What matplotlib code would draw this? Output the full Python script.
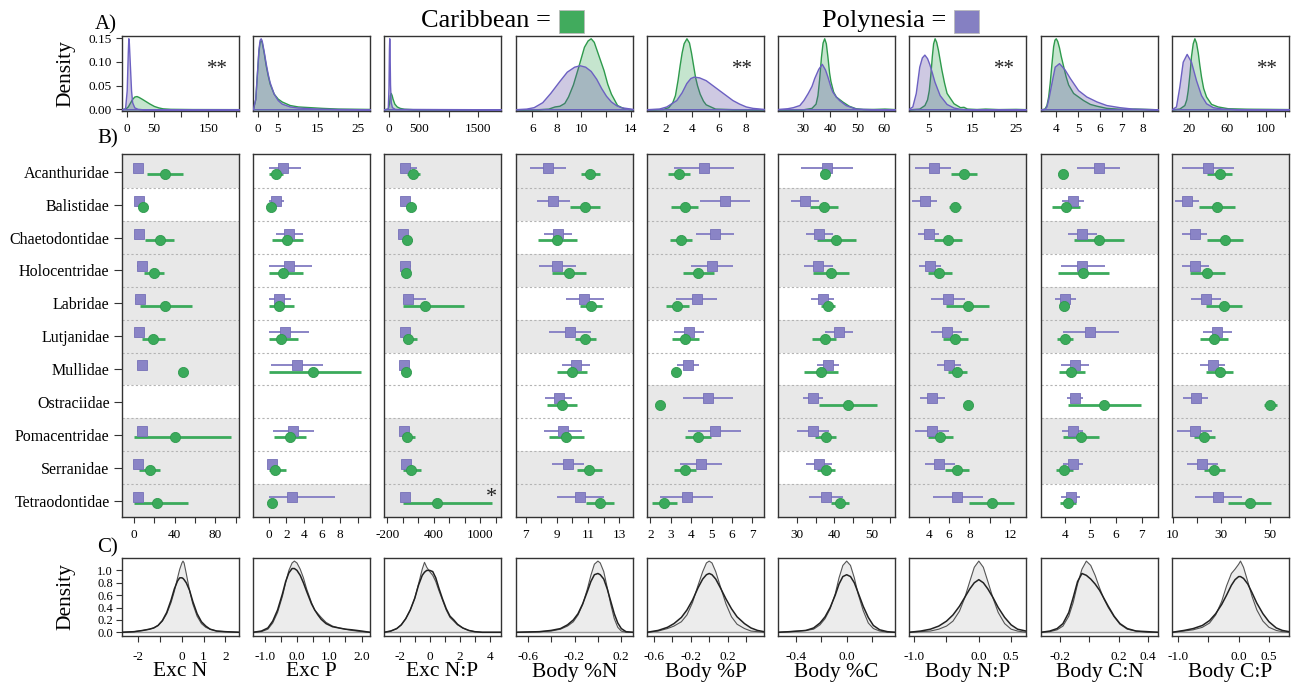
import numpy as np
import matplotlib
matplotlib.use('Agg')
import matplotlib.pyplot as plt
from matplotlib.colors import to_rgba
from matplotlib.patches import Rectangle

plt.rcParams['font.family'] = ['Liberation Serif', 'DejaVu Serif']

nan = float('nan')

# ---------------------------------------------------------------- labels
families = ['Acanthuridae', 'Balistidae', 'Chaetodontidae', 'Holocentridae',
            'Labridae', 'Lutjanidae', 'Mullidae', 'Ostraciidae',
            'Pomacentridae', 'Serranidae', 'Tetraodontidae']
variables = ['Exc N', 'Exc P', 'Exc N:P', 'Body %N', 'Body %P', 'Body %C',
             'Body N:P', 'Body C:N', 'Body C:P']
signif_top = ['**', '', '', '', '**', '', '**', '', '**']

# ---------------------------------------------------------------- A) densities
# panel 1 in density units, others peak-normalised (no y axis shown)
excN_car_x = [-8.6, -2, 2, 6, 10, 14, 18, 22, 28, 35, 42, 50, 58, 66, 80, 120, 206]
excN_car_d = [0.0005, 0.002, 0.006, 0.014, 0.022, 0.027, 0.028, 0.026, 0.022, 0.017,
              0.012, 0.007, 0.004, 0.002, 0.001, 0.0005, 0.0003]
excN_pol_x = [-8.6, -3, 0, 2, 3, 4, 6, 8, 10, 14, 20, 30, 206]
excN_pol_d = [0, 0.002, 0.04, 0.12, 0.15, 0.14, 0.09, 0.04, 0.015, 0.004, 0.001, 0, 0]

excP_car_x = [-1.16, -0.6, -0.2, 0.2, 0.5, 0.75, 1.0, 1.5, 2, 2.5, 3, 4, 5, 6, 8, 10, 13, 16, 20, 28]
excP_car_d = [0.01, 0.14, 0.48, 0.82, 0.95, 0.97, 0.95, 0.8, 0.62, 0.48, 0.36, 0.22, 0.15,
              0.11, 0.06, 0.04, 0.03, 0.02, 0.01, 0.005]
excP_pol_x = [-1.16, -0.6, -0.2, 0.2, 0.5, 0.75, 1.0, 1.5, 2, 2.5, 3, 4, 5, 6, 8, 10, 13, 16, 20, 28]
excP_pol_d = [0.01, 0.15, 0.5, 0.85, 0.98, 1.0, 0.97, 0.82, 0.65, 0.5, 0.38, 0.22, 0.13,
              0.08, 0.04, 0.025, 0.015, 0.008, 0.004, 0.0]

excNP_car_x = [-83, -20, 0, 15, 30, 45, 60, 90, 130, 180, 250, 400, 1877]
excNP_car_d = [0, 0.01, 0.08, 0.2, 0.23, 0.2, 0.15, 0.08, 0.04, 0.02, 0.008, 0.002, 0]
excNP_pol_x = [-83, -20, -8, 0, 5, 10, 18, 30, 50, 100, 1877]
excNP_pol_d = [0, 0.01, 0.3, 0.85, 1.0, 0.85, 0.35, 0.1, 0.03, 0.005, 0]

bN_car_x = [4.66, 6.5, 7.3, 7.8, 8.2, 8.6, 8.9, 9.3, 9.7, 10.0, 10.2, 10.5, 10.75, 11.0,
            11.3, 11.8, 12.1, 12.4, 12.9, 13.5, 14.2]
bN_car_d = [0, 0.002, 0.01, 0.04, 0.05, 0.09, 0.18, 0.35, 0.58, 0.76, 0.88, 0.97, 1.0, 0.95,
            0.8, 0.55, 0.36, 0.22, 0.06, 0.01, 0]
bN_pol_x = [4.66, 5.5, 6.1, 6.8, 7.45, 8.2, 8.8, 9.4, 9.85, 10.3, 10.75, 11.2, 11.6, 12.0,
            12.4, 12.8, 13.2, 14.2]
bN_pol_d = [0.002, 0.01, 0.03, 0.1, 0.23, 0.4, 0.53, 0.6, 0.62, 0.6, 0.54, 0.43, 0.3, 0.19,
            0.11, 0.06, 0.03, 0.005]

bP_car_x = [0.61, 1.8, 2.2, 2.5, 2.7, 2.9, 3.05, 3.2, 3.35, 3.56, 3.75, 3.9, 4.05, 4.2, 4.35,
            4.55, 4.8, 5.0, 5.7, 7, 9.36]
bP_car_d = [0, 0.005, 0.03, 0.1, 0.2, 0.42, 0.62, 0.8, 0.93, 1.0, 0.94, 0.8, 0.63, 0.46, 0.34,
            0.22, 0.12, 0.07, 0.01, 0.002, 0]
bP_pol_x = [0.61, 1.5, 2.05, 2.8, 3.2, 3.55, 3.85, 4.1, 4.5, 5.0, 5.5, 6.0, 6.5, 7.0, 7.5,
            8.0, 8.5, 9.36]
bP_pol_d = [0.002, 0.01, 0.04, 0.13, 0.24, 0.37, 0.44, 0.46, 0.45, 0.41, 0.34, 0.27, 0.2,
            0.13, 0.08, 0.04, 0.02, 0.005]

bC_car_x = [20.6, 30, 33, 34.5, 35.2, 35.8, 36.5, 37.1, 37.7, 38.3, 38.9, 39.5, 40, 41, 42,
            44.4, 46.8, 49.3, 52, 56, 60, 63.9]
bC_car_d = [0, 0.001, 0.02, 0.08, 0.2, 0.42, 0.74, 0.94, 1.0, 0.93, 0.74, 0.52, 0.4, 0.25,
            0.18, 0.11, 0.05, 0.015, 0.005, 0.005, 0.01, 0.003]
bC_pol_x = [20.6, 24, 26.1, 28.5, 30, 31.6, 33, 34, 35.5, 36.8, 38, 38.9, 40, 40.7, 42,
            43.2, 45.6, 49.3, 55, 63.9]
bC_pol_d = [0.005, 0.015, 0.03, 0.06, 0.13, 0.23, 0.33, 0.44, 0.57, 0.64, 0.56, 0.46, 0.32,
            0.25, 0.18, 0.13, 0.06, 0.01, 0.002, 0]

bNP_car_x = [0.44, 2.8, 4.0, 4.6, 5.0, 5.4, 5.7, 6.0, 6.34, 6.7, 7.1, 7.5, 7.9, 8.5, 9.1,
             10.7, 12.2, 13.0, 13.8, 16, 18, 21, 25, 27.4]
bNP_car_d = [0, 0.01, 0.06, 0.14, 0.27, 0.52, 0.75, 0.93, 1.0, 0.95, 0.84, 0.7, 0.56, 0.38,
             0.23, 0.085, 0.03, 0.035, 0.01, 0.004, 0.01, 0.003, 0.006, 0.002]
bNP_pol_x = [0.44, 1.2, 2.0, 2.8, 3.4, 3.98, 4.6, 5.16, 5.7, 6.3, 7.5, 9.1, 10.7, 12.2, 15, 27.4]
bNP_pol_d = [0.01, 0.04, 0.23, 0.6, 0.73, 0.77, 0.72, 0.63, 0.52, 0.39, 0.2, 0.075, 0.025,
             0.006, 0.001, 0]

bCN_car_x = [3.29, 3.45, 3.54, 3.62, 3.69, 3.77, 3.85, 3.91, 3.97, 4.04, 4.12, 4.2, 4.31,
             4.42, 4.54, 4.77, 5.0, 5.23, 5.54, 5.85, 6.3, 6.9, 7.6, 8.68]
bCN_car_d = [0, 0.01, 0.06, 0.18, 0.37, 0.64, 0.89, 0.98, 1.0, 0.96, 0.87, 0.75, 0.61,
             0.47, 0.35, 0.23, 0.18, 0.13, 0.076, 0.05, 0.02, 0.008, 0.01, 0]
bCN_pol_x = [3.29, 3.45, 3.54, 3.65, 3.77, 3.92, 4.12, 4.38, 4.62, 5.0, 5.38, 5.85, 6.3, 6.9,
             7.5, 8.68]
bCN_pol_d = [0, 0.005, 0.04, 0.18, 0.37, 0.6, 0.65, 0.56, 0.44, 0.27, 0.18, 0.11, 0.06, 0.03,
             0.01, 0.0]

bCP_car_x = [2.7, 10.3, 15.5, 17.5, 19, 20.8, 22.4, 24.2, 25.9, 27.6, 29.4, 31, 32.8, 35,
             38, 43.2, 50, 60.5, 80, 100, 124]
bCP_car_d = [0, 0.01, 0.06, 0.14, 0.27, 0.5, 0.75, 0.93, 1.0, 0.94, 0.8, 0.63, 0.46, 0.3,
             0.18, 0.076, 0.04, 0.015, 0.008, 0.006, 0.003]
bCP_pol_x = [2.7, 6.8, 10.3, 13.8, 17.9, 22.4, 27.6, 32.8, 38, 45, 55, 70, 124]
bCP_pol_d = [0.005, 0.04, 0.32, 0.67, 0.78, 0.67, 0.41, 0.2, 0.085, 0.03, 0.01, 0.002, 0]

# ---------------------------------------------------------------- B) family estimates
excN_pol = [3.9, 5.2, 5.2, 7.9, 6.6, 4.9, 7.9, nan, 8.2, 3.9, 4.6]
excN_pol_lo = [nan, nan, nan, 3.6, 1.6, nan, nan, nan, 3.0, nan, nan]
excN_pol_hi = [nan, nan, nan, 12.1, 11.5, nan, nan, nan, 13.1, nan, nan]
excN_car = [30.2, 9.2, 25.6, 19.7, 31.1, 18.7, 48.5, nan, 40.7, 16.1, 23.0]
excN_car_lo = [12.8, nan, 11.5, 10.5, 6.2, 8.2, 45.6, nan, 0.0, 5.6, 0.0]
excN_car_hi = [48.2, nan, 39.7, 29.5, 56.7, 30.2, 52.1, nan, 95.4, 26.2, 52.8]

excP_pol = [1.67, 0.81, 2.33, 2.33, 1.15, 1.81, 3.15, nan, 2.78, 0.37, 2.63]
excP_pol_lo = [0, 0, 0.85, 0, 0, 0, 0.26, nan, 0.52, 0, 0]
excP_pol_hi = [3.6, 1.7, 3.85, 4.9, 2.56, 4.5, 6.07, nan, 5.1, 0.8, 7.4]
excP_car = [0.81, 0.3, 2.07, 1.63, 1.22, 1.44, 4.96, nan, 2.37, 0.78, 0.37]
excP_car_lo = [0, nan, 0.44, 0, 0, 0, 0, nan, 0.6, 0, nan]
excP_car_hi = [1.6, nan, 3.85, 3.85, 2.9, 3.3, 10.4, nan, 4.15, 1.93, nan]

excNP_pol = [30, 30, 9, 26, 72, 30, 17, nan, 17, 43, 26]
excNP_pol_lo = [0, nan, nan, 0, 9, nan, nan, nan, nan, nan, nan]
excNP_pol_hi = [179, nan, nan, 111, 298, nan, nan, nan, nan, nan, nan]
excNP_car = [136, 102, 51, 43, 289, 72, 43, nan, 60, 106, 447]
excNP_car_lo = [51, nan, 9, nan, 0, 0, nan, nan, 9, 0, 0]
excNP_car_hi = [221, nan, 119, nan, 791, 179, nan, nan, 162, 230, 1157]

bN_pol = [8.44, 8.74, 9.06, 9.01, 10.77, 9.83, 10.21, 9.12, 9.38, 9.72, 10.49]
bN_pol_lo = [7.26, 7.69, 8.16, 7.86, 9.57, 8.48, 9.34, 8.26, 8.16, 8.71, 8.97]
bN_pol_hi = [9.61, 9.83, 10.0, 10.21, 12.01, 11.22, 11.16, 9.98, 10.62, 10.73, 12.06]
bN_car = [11.16, 10.79, 9.01, 9.79, 11.2, 10.79, 9.96, 9.31, 9.61, 11.07, 11.76]
bN_car_lo = [10.58, 9.83, 7.79, 8.71, 10.51, 10.13, 9.01, 8.37, 8.5, 10.28, 10.9]
bN_car_hi = [11.8, 11.76, 10.26, 10.9, 11.93, 11.5, 10.96, 10.3, 10.77, 11.93, 12.7]

bP_pol = [4.61, 5.65, 5.17, 5.0, 4.27, 3.87, 3.83, 4.84, 5.15, 4.47, 3.79]
bP_pol_lo = [3.14, 4.44, 4.21, 4.01, 3.27, 3.15, 3.3, 3.59, 3.83, 3.43, 2.49]
bP_pol_hi = [6.12, 6.9, 6.12, 6.03, 5.26, 4.63, 4.4, 6.06, 6.45, 5.51, 5.07]
bP_car = [3.4, 3.67, 3.51, 4.35, 3.31, 3.7, 3.27, 2.47, 4.31, 3.69, 2.67]
bP_car_lo = [2.84, 3.0, 2.97, 3.59, 2.75, 3.07, 3.07, nan, 3.67, 3.14, 2.08]
bP_car_hi = [3.95, 4.32, 4.05, 5.13, 3.88, 4.4, 3.43, nan, 4.97, 4.24, 3.3]

bC_pol = [38.1, 32.2, 36.0, 35.7, 36.9, 41.2, 38.2, 34.3, 34.4, 35.8, 37.7]
bC_pol_lo = [31.2, 28.5, 32.5, 31.8, 33.8, 37.5, 35.3, 31.6, 30.1, 32.3, 33.2]
bC_pol_hi = [44.9, 35.9, 39.6, 39.6, 39.9, 45.0, 41.2, 36.9, 38.7, 39.3, 42.3]
bC_car = [37.6, 37.2, 40.5, 39.1, 38.3, 37.4, 36.4, 43.6, 37.7, 37.8, 41.5]
bC_car_lo = [nan, 33.4, 35.3, 34.3, 36.5, 34.1, 31.8, 35.9, 34.9, 35.3, 39.0]
bC_car_hi = [nan, 41.0, 45.7, 43.9, 40.1, 40.5, 41.0, 51.4, 40.5, 40.3, 43.9]

bNP_pol = [4.49, 3.61, 4.0, 4.1, 5.89, 5.76, 6.05, 4.36, 4.36, 5.07, 6.83]
bNP_pol_lo = [2.7, 2.34, 2.96, 3.02, 4.23, 4.23, 4.81, 3.12, 2.67, 3.61, 4.42]
bNP_pol_hi = [6.24, 4.81, 5.07, 5.2, 7.61, 7.28, 7.22, 5.59, 6.05, 6.57, 9.3]
bNP_car = [7.48, 6.6, 5.89, 5.07, 7.84, 6.63, 6.8, 7.9, 5.17, 6.8, 10.18]
bNP_car_lo = [6.21, 5.98, 4.49, 3.93, 5.72, 5.4, 5.89, nan, 3.93, 5.59, 7.93]
bNP_car_hi = [8.75, 7.15, 7.28, 6.28, 9.89, 7.84, 7.74, nan, 6.44, 8.0, 12.39]

bCN_pol = [5.32, 4.31, 4.67, 4.69, 4.03, 5.0, 4.39, 4.4, 4.31, 4.31, 4.23]
bCN_pol_lo = [4.47, 3.91, 4.14, 3.84, 3.62, 3.92, 3.87, 4.1, 3.88, 3.92, 3.86]
bCN_pol_hi = [6.17, 4.75, 5.24, 5.55, 4.44, 6.12, 4.93, 4.71, 4.72, 4.72, 4.61]
bCN_car = [3.92, 4.05, 5.32, 4.72, 3.97, 4.03, 4.26, 5.54, 4.62, 3.99, 4.12]
bCN_car_lo = [nan, 3.5, 4.36, 3.75, 3.82, 3.72, 3.77, 4.12, 3.92, 3.66, 3.82]
bCN_car_hi = [nan, 4.6, 6.3, 5.73, 4.16, 4.34, 4.78, 6.98, 5.35, 4.31, 4.44]

bCP_pol = [24.5, 15.8, 19.0, 19.2, 23.5, 28.3, 26.6, 19.4, 19.0, 22.0, 28.6]
bCP_pol_lo = [13.7, 10.7, 13.7, 13.7, 17.4, 22.4, 21.3, 14.1, 11.8, 15.8, 19.0]
bCP_pol_hi = [35.2, 20.8, 24.1, 24.9, 30.0, 34.6, 31.7, 24.6, 26.1, 28.8, 38.7]
bCP_car = [29.3, 28.2, 31.5, 24.2, 31.1, 26.8, 29.3, 50.3, 23.0, 27.1, 41.7]
bCP_car_lo = [24.2, 20.8, 24.1, 17.2, 23.5, 21.0, 23.5, 47.5, 18.7, 22.7, 32.8]
bCP_car_hi = [34.4, 35.7, 39.0, 31.4, 38.6, 32.8, 34.8, 53.2, 27.4, 31.5, 50.7]

# grey rows (1 = shaded)
excN_shade = [1, 0, 1, 1, 1, 1, 1, 0, 1, 1, 1]
excP_shade = [0, 0, 0, 0, 0, 0, 0, 0, 0, 0, 1]
excNP_shade = [1, 0, 1, 1, 1, 1, 0, 0, 1, 1, 1]
bN_shade = [1, 1, 0, 1, 0, 1, 0, 0, 0, 1, 1]
bP_shade = [1, 1, 1, 1, 1, 0, 0, 1, 1, 1, 1]
bC_shade = [0, 1, 1, 1, 0, 1, 0, 1, 1, 0, 1]
bNP_shade = [1, 1, 1, 1, 1, 1, 1, 1, 1, 1, 1]
bCN_shade = [1, 0, 1, 0, 1, 1, 0, 0, 1, 1, 0]
bCP_shade = [1, 1, 1, 1, 1, 0, 0, 1, 1, 1, 1]

# ---------------------------------------------------------------- C) residual densities
rN_x = [-2.76, -2.2, -1.8, -1.5, -1.3, -1.1, -0.9, -0.7, -0.5, -0.35, -0.2, -0.1, 0.0, 0.05,
        0.1, 0.2, 0.35, 0.5, 0.7, 0.9, 1.1, 1.3, 1.6, 2.0, 2.63]
rN_a = [0.0, 0.01, 0.03, 0.05, 0.07, 0.11, 0.18, 0.30, 0.48, 0.66, 0.88, 1.02, 1.12, 1.15,
        1.12, 0.95, 0.68, 0.46, 0.26, 0.14, 0.08, 0.05, 0.02, 0.01, 0.0]
rN_b = [0.0, 0.01, 0.03, 0.05, 0.07, 0.11, 0.19, 0.32, 0.52, 0.70, 0.83, 0.88, 0.88, 0.87,
        0.85, 0.80, 0.68, 0.50, 0.30, 0.17, 0.10, 0.05, 0.02, 0.01, 0.0]
rP_x = [-1.36, -1.1, -0.9, -0.75, -0.6, -0.45, -0.35, -0.25, -0.15, -0.08, 0.0, 0.1, 0.2, 0.3,
        0.45, 0.55, 0.65, 0.75, 0.9, 1.1, 1.3, 1.5, 1.7, 2.0, 2.26]
rP_a = [0.0, 0.01, 0.05, 0.15, 0.32, 0.58, 0.80, 1.00, 1.12, 1.15, 1.12, 1.02, 0.88, 0.70,
        0.48, 0.36, 0.30, 0.24, 0.16, 0.10, 0.07, 0.05, 0.03, 0.01, 0.0]
rP_b = [0.0, 0.02, 0.07, 0.18, 0.36, 0.62, 0.82, 0.96, 1.03, 1.03, 1.00, 0.92, 0.80, 0.66,
        0.46, 0.36, 0.28, 0.21, 0.14, 0.09, 0.07, 0.05, 0.04, 0.02, 0.0]
rNP_x = [-3.05, -2.6, -2.2, -1.9, -1.6, -1.3, -1.0, -0.75, -0.5, -0.35, -0.2, 0.0, 0.2, 0.4,
         0.6, 0.85, 1.1, 1.35, 1.6, 1.85, 2.2, 2.6, 3.0, 3.5, 4.75]
rNP_a = [0.0, 0.02, 0.06, 0.12, 0.22, 0.36, 0.55, 0.78, 1.02, 1.13, 1.05, 0.98, 0.92, 0.82,
         0.68, 0.52, 0.36, 0.24, 0.18, 0.12, 0.07, 0.03, 0.01, 0.0, 0.0]
rNP_b = [0.0, 0.02, 0.06, 0.12, 0.22, 0.36, 0.55, 0.76, 0.92, 0.97, 1.0, 1.0, 0.98, 0.88,
         0.72, 0.54, 0.38, 0.26, 0.20, 0.13, 0.07, 0.03, 0.01, 0.0, 0.0]
rbN_x = [-0.70, -0.5, -0.4, -0.32, -0.26, -0.21, -0.17, -0.13, -0.09, -0.06, -0.03, 0.0,
         0.02, 0.05, 0.08, 0.11, 0.14, 0.17, 0.20, 0.24, 0.30]
rbN_a = [0.0, 0.01, 0.02, 0.05, 0.10, 0.17, 0.28, 0.45, 0.70, 0.92, 1.10, 1.15, 1.12, 0.98,
         0.72, 0.45, 0.22, 0.08, 0.02, 0.0, 0.0]
rbN_b = [0.0, 0.01, 0.03, 0.06, 0.12, 0.20, 0.30, 0.46, 0.66, 0.82, 0.93, 0.95, 0.93, 0.86,
         0.70, 0.50, 0.30, 0.15, 0.06, 0.01, 0.0]
rbP_x = [-0.67, -0.55, -0.45, -0.38, -0.3, -0.24, -0.18, -0.12, -0.07, -0.03, 0.0, 0.03,
         0.07, 0.12, 0.18, 0.24, 0.3, 0.38, 0.45, 0.52, 0.59]
rbP_a = [0.0, 0.02, 0.06, 0.10, 0.17, 0.28, 0.48, 0.76, 0.98, 1.12, 1.15, 1.12, 0.98, 0.74,
         0.46, 0.25, 0.13, 0.06, 0.02, 0.01, 0.0]
rbP_b = [0.0, 0.03, 0.08, 0.14, 0.24, 0.36, 0.52, 0.72, 0.86, 0.93, 0.95, 0.93, 0.86, 0.72,
         0.54, 0.38, 0.25, 0.14, 0.07, 0.03, 0.01]
rbC_x = [-0.54, -0.45, -0.38, -0.32, -0.26, -0.21, -0.17, -0.13, -0.09, -0.06, -0.03, 0.0,
         0.03, 0.06, 0.09, 0.13, 0.17, 0.21, 0.26, 0.32, 0.38]
rbC_a = [0.0, 0.01, 0.02, 0.03, 0.05, 0.12, 0.22, 0.38, 0.62, 0.88, 1.08, 1.15, 1.08, 0.88,
         0.62, 0.35, 0.15, 0.06, 0.02, 0.0, 0.0]
rbC_b = [0.0, 0.01, 0.02, 0.03, 0.07, 0.15, 0.25, 0.40, 0.60, 0.78, 0.90, 0.93, 0.90, 0.80,
         0.64, 0.42, 0.24, 0.11, 0.04, 0.01, 0.0]
rbNP_x = [-1.08, -0.9, -0.75, -0.62, -0.5, -0.4, -0.3, -0.22, -0.14, -0.07, 0.0, 0.07, 0.14,
          0.22, 0.3, 0.4, 0.5, 0.6, 0.73]
rbNP_a = [0.0, 0.01, 0.02, 0.05, 0.10, 0.18, 0.34, 0.55, 0.82, 1.05, 1.15, 1.05, 0.82, 0.55,
          0.32, 0.14, 0.05, 0.02, 0.0]
rbNP_b = [0.0, 0.02, 0.05, 0.10, 0.18, 0.28, 0.42, 0.56, 0.70, 0.80, 0.85, 0.80, 0.70, 0.56,
          0.40, 0.24, 0.12, 0.05, 0.02]
rbCN_x = [-0.33, -0.27, -0.22, -0.18, -0.14, -0.11, -0.08, -0.05, -0.02, 0.01, 0.04, 0.07,
          0.1, 0.13, 0.17, 0.21, 0.26, 0.32, 0.4, 0.47]
rbCN_a = [0.0, 0.01, 0.04, 0.10, 0.26, 0.48, 0.78, 1.02, 1.15, 1.08, 0.92, 0.72, 0.54, 0.40,
          0.25, 0.13, 0.05, 0.02, 0.0, 0.0]
rbCN_b = [0.0, 0.02, 0.06, 0.14, 0.32, 0.56, 0.82, 0.95, 0.92, 0.86, 0.78, 0.68, 0.55, 0.42,
          0.26, 0.14, 0.06, 0.02, 0.01, 0.0]
rbCP_x = [-1.10, -0.9, -0.75, -0.6, -0.48, -0.38, -0.28, -0.2, -0.12, -0.06, 0.0, 0.03,
          0.08, 0.15, 0.22, 0.3, 0.4, 0.5, 0.62, 0.72, 0.83]
rbCP_a = [0.0, 0.02, 0.04, 0.08, 0.15, 0.28, 0.50, 0.75, 0.95, 1.02, 1.10, 1.15, 1.05, 0.82,
          0.58, 0.36, 0.18, 0.08, 0.03, 0.01, 0.0]
rbCP_b = [0.0, 0.03, 0.06, 0.11, 0.19, 0.30, 0.45, 0.60, 0.76, 0.85, 0.90, 0.90, 0.87, 0.78,
          0.64, 0.47, 0.30, 0.17, 0.07, 0.03, 0.01]

# ---------------------------------------------------------------- axes set-up
top_dens = [(excN_car_x, excN_car_d, excN_pol_x, excN_pol_d),
            (excP_car_x, excP_car_d, excP_pol_x, excP_pol_d),
            (excNP_car_x, excNP_car_d, excNP_pol_x, excNP_pol_d),
            (bN_car_x, bN_car_d, bN_pol_x, bN_pol_d),
            (bP_car_x, bP_car_d, bP_pol_x, bP_pol_d),
            (bC_car_x, bC_car_d, bC_pol_x, bC_pol_d),
            (bNP_car_x, bNP_car_d, bNP_pol_x, bNP_pol_d),
            (bCN_car_x, bCN_car_d, bCN_pol_x, bCN_pol_d),
            (bCP_car_x, bCP_car_d, bCP_pol_x, bCP_pol_d)]
top_xlim = [(-8.6, 206), (-1.16, 28.0), (-83, 1877), (4.66, 14.2), (0.61, 9.36),
            (20.6, 63.9), (0.44, 27.4), (3.29, 8.68), (2.7, 124)]
top_ticks = [[0, 50, 100, 150, 200], [0, 5, 10, 15, 20, 25], [0, 500, 1000, 1500],
             [6, 8, 10, 12, 14], [2, 4, 6, 8], [30, 40, 50, 60], [5, 10, 15, 20, 25],
             [4, 5, 6, 7, 8], [20, 40, 60, 80, 100, 120]]
top_labels = [['0', '50', '', '150', ''], ['0', '5', '', '15', '', '25'],
              ['0', '500', '', '1500'], ['6', '8', '10', '', '14'], ['2', '4', '6', '8'],
              ['30', '40', '50', '60'], ['5', '', '15', '', '25'], ['4', '5', '6', '7', '8'],
              ['20', '', '60', '', '100', '']]

mid_data = [(excN_pol, excN_pol_lo, excN_pol_hi, excN_car, excN_car_lo, excN_car_hi, excN_shade),
            (excP_pol, excP_pol_lo, excP_pol_hi, excP_car, excP_car_lo, excP_car_hi, excP_shade),
            (excNP_pol, excNP_pol_lo, excNP_pol_hi, excNP_car, excNP_car_lo, excNP_car_hi, excNP_shade),
            (bN_pol, bN_pol_lo, bN_pol_hi, bN_car, bN_car_lo, bN_car_hi, bN_shade),
            (bP_pol, bP_pol_lo, bP_pol_hi, bP_car, bP_car_lo, bP_car_hi, bP_shade),
            (bC_pol, bC_pol_lo, bC_pol_hi, bC_car, bC_car_lo, bC_car_hi, bC_shade),
            (bNP_pol, bNP_pol_lo, bNP_pol_hi, bNP_car, bNP_car_lo, bNP_car_hi, bNP_shade),
            (bCN_pol, bCN_pol_lo, bCN_pol_hi, bCN_car, bCN_car_lo, bCN_car_hi, bCN_shade),
            (bCP_pol, bCP_pol_lo, bCP_pol_hi, bCP_car, bCP_car_lo, bCP_car_hi, bCP_shade)]
mid_xlim = [(-11.5, 103.2), (-1.74, 11.37), (-242, 1268), (6.36, 13.9), (1.83, 7.57),
            (24.9, 56.3), (2.08, 13.56), (3.08, 7.63), (9.6, 58.0)]
mid_ticks = [[0, 20, 40, 60, 80, 100], [0, 2, 4, 6, 8, 10],
             [-200, 0, 200, 400, 600, 800, 1000, 1200], [7, 8, 9, 10, 11, 12, 13],
             [2, 3, 4, 5, 6, 7], [30, 35, 40, 45, 50, 55], [4, 6, 8, 10, 12],
             [4, 5, 6, 7], [10, 20, 30, 40, 50]]
mid_labels = [['0', '', '40', '', '80', ''], ['0', '2', '4', '6', '8', ''],
              ['-200', '', '', '400', '', '', '1000', ''], ['7', '', '9', '', '11', '', '13'],
              ['2', '3', '4', '5', '6', '7'], ['30', '', '40', '', '50', ''],
              ['4', '6', '8', '', '12'], ['4', '5', '6', '7'], ['10', '', '30', '', '50']]

bot_dens = [(rN_x, rN_a, rN_b), (rP_x, rP_a, rP_b), (rNP_x, rNP_a, rNP_b),
            (rbN_x, rbN_a, rbN_b), (rbP_x, rbP_a, rbP_b), (rbC_x, rbC_a, rbC_b),
            (rbNP_x, rbNP_a, rbNP_b), (rbCN_x, rbCN_a, rbCN_b), (rbCP_x, rbCP_a, rbCP_b)]
bot_xlim = [(-2.76, 2.63), (-1.36, 2.26), (-3.05, 4.75), (-0.70, 0.30), (-0.67, 0.59),
            (-0.54, 0.38), (-1.08, 0.73), (-0.33, 0.47), (-1.10, 0.83)]
bot_ticks = [[-2, -1, 0, 1, 2], [-1.0, -0.5, 0.0, 0.5, 1.0, 1.5, 2.0],
             [-2, -1, 0, 1, 2, 3, 4], [-0.6, -0.4, -0.2, 0.0, 0.2],
             [-0.6, -0.4, -0.2, 0.0, 0.2, 0.4], [-0.4, -0.2, 0.0, 0.2],
             [-1.0, -0.5, 0.0, 0.5], [-0.2, 0.0, 0.2, 0.4], [-1.0, -0.5, 0.0, 0.5]]
bot_labels = [['-2', '', '0', '1', '2'], ['-1.0', '', '0.0', '', '1.0', '', '2.0'],
              ['-2', '', '0', '', '2', '', '4'], ['-0.6', '', '-0.2', '', '0.2'],
              ['-0.6', '', '-0.2', '', '0.2', ''], ['-0.4', '', '0.0', ''],
              ['-1.0', '', '0.0', '0.5'], ['-0.2', '', '0.2', '0.4'], ['-1.0', '', '0.0', '0.5']]

# ---------------------------------------------------------------- drawing
W, H = 1294, 684
fig = plt.figure(figsize=(W / 100, H / 100), dpi=100)
EDGE = '#333333'
GREEN = '#3BAA5B'
GREEN_L = '#2E9A4C'
PURP = '#8A84C6'
PURP_L = '#6C60C2'
col_left = [122, 253, 384, 516, 647, 778, 909, 1041, 1172]
col_w = 117


def ax_at(x0, y0, x1, y1):
    return fig.add_axes([x0 / W, 1 - y1 / H, (x1 - x0) / W, (y1 - y0) / H])


def style(ax, pad=4.5):
    for s in ax.spines.values():
        s.set_color(EDGE)
        s.set_linewidth(1.0)
    ax.tick_params(direction='out', length=4.5, width=0.8, color=EDGE,
                   labelsize=9.5, pad=pad)


# A) top row
for j in range(9):
    cx, cd, px, pd = top_dens[j]
    ax = ax_at(col_left[j], 36, col_left[j] + col_w, 111)
    style(ax)
    ax.fill_between(cx, cd, 0, facecolor=to_rgba('#41AB5D', 0.3), edgecolor=GREEN_L,
                    linewidth=1.0, zorder=2)
    ax.fill_between(px, pd, 0, facecolor=to_rgba('#5E4FA2', 0.3), edgecolor=PURP_L,
                    linewidth=1.0, zorder=3)
    ax.set_xlim(*top_xlim[j])
    top = max(max(cd), max(pd))
    ax.set_ylim(-0.024 * top, 1.032 * top)
    ax.set_xticks(top_ticks[j])
    ax.set_xticklabels(top_labels[j])
    if j == 0:
        ax.set_yticks([0, 0.05, 0.10, 0.15])
        ax.set_yticklabels(['0.00', '0.05', '0.10', '0.15'])
        ax.tick_params(axis='y', pad=3)
    else:
        ax.set_yticks([])
    if signif_top[j]:
        ax.text(0.815, 0.5, signif_top[j], transform=ax.transAxes, ha='center',
                va='baseline', fontsize=15, color='#222222')

# B) middle row
rows = np.arange(len(families))
for j in range(9):
    pm, plo, phi, cm, clo, chi, shade = mid_data[j]
    ax = ax_at(col_left[j], 154, col_left[j] + col_w, 517)
    style(ax)
    for i, g in enumerate(shade):
        if g:
            lo = i - 0.5 if i > 0 else -1
            hi = i + 0.5 if i < len(shade) - 1 else 12
            ax.axhspan(lo, hi, color='#E8E8E8', zorder=0, linewidth=0)
    for i in range(len(families) - 1):
        ax.axhline(i + 0.5, color='#B4B4B4', lw=0.8, ls=(0, (2, 2)), zorder=1)
    ax.hlines(rows - 0.12, plo, phi, color=PURP, lw=1.4, zorder=3)
    ax.plot(pm, rows - 0.12, 's', ms=7.3, mfc=PURP, mec='#7670B8', mew=0.6, zorder=4)
    ax.hlines(rows + 0.08, clo, chi, color=GREEN, lw=2.0, zorder=3)
    ax.plot(cm, rows + 0.08, 'o', ms=7.3, mfc=GREEN, mec='#2F9A4E', mew=0.6, zorder=5)
    ax.set_xlim(*mid_xlim[j])
    ax.set_ylim(10.5, -0.54)
    ax.set_xticks(mid_ticks[j])
    ax.set_xticklabels(mid_labels[j])
    if j == 0:
        ax.set_yticks(rows)
        ax.set_yticklabels(families, fontsize=11.5)
        ax.tick_params(axis='y', length=6, pad=3)
    else:
        ax.set_yticks([])
    if j == 2:
        ax.text(1145, 10.03, '*', ha='center', va='baseline', fontsize=16, color='#222222')

# C) bottom row
for j in range(9):
    bx, ba, bb = bot_dens[j]
    ax = ax_at(col_left[j], 558, col_left[j] + col_w, 636)
    style(ax, pad=6)
    ax.fill_between(bx, ba, 0, facecolor='#ECECEC', edgecolor='none', zorder=1)
    ax.fill_between(bx, bb, 0, facecolor='#ECECEC', edgecolor='none', zorder=1)
    ax.axhline(0, color='#999999', lw=1.0, zorder=2)
    ax.plot(bx, ba, color='#555555', lw=0.8, zorder=3)
    ax.plot(bx, bb, color='#222222', lw=1.1, zorder=3)
    ax.set_xlim(*bot_xlim[j])
    ax.set_ylim(-0.06, 1.2)
    ax.set_xticks(bot_ticks[j])
    ax.set_xticklabels(bot_labels[j])
    if j == 0:
        ax.set_yticks([0, 0.2, 0.4, 0.6, 0.8, 1.0])
        ax.set_yticklabels(['0.0', '0.2', '0.4', '0.6', '0.8', '1.0'])
        ax.tick_params(axis='y', labelsize=9, pad=2)
    else:
        ax.set_yticks([])
    fig.text((col_left[j] + col_w / 2) / W, 1 - 672 / H, variables[j], ha='center',
             va='center', fontsize=15.5)

# text
fig.text(95 / W, 1 - 25 / H, 'A)', fontsize=15, ha='left', va='center')
fig.text(97 / W, 1 - 139 / H, 'B)', fontsize=15, ha='left', va='center')
fig.text(97 / W, 1 - 548 / H, 'C)', fontsize=15, ha='left', va='center')
fig.text(66 / W, 1 - 73.5 / H, 'Density', rotation=90, fontsize=15.5, ha='center', va='center')
fig.text(66 / W, 1 - 597 / H, 'Density', rotation=90, fontsize=15.5, ha='center', va='center')

t1 = fig.text(421 / W, 1 - 21 / H, 'Caribbean =', fontsize=19, ha='left', va='center')
t2 = fig.text(822 / W, 1 - 21 / H, 'Polynesia =', fontsize=19, ha='left', va='center')
fig.canvas.draw()
r = fig.canvas.get_renderer()
for t, col in ((t1, '#41AB5D'), (t2, '#8580C2')):
    bb = t.get_window_extent(renderer=r)
    x0 = bb.x1 + 8
    fig.patches.append(Rectangle((x0 / W, 1 - 33 / H), 25 / W, 23 / H, transform=fig.transFigure,
                                 facecolor=col, edgecolor='#BBBBBB', lw=0.6))

fig.savefig('out.png', dpi=100)
